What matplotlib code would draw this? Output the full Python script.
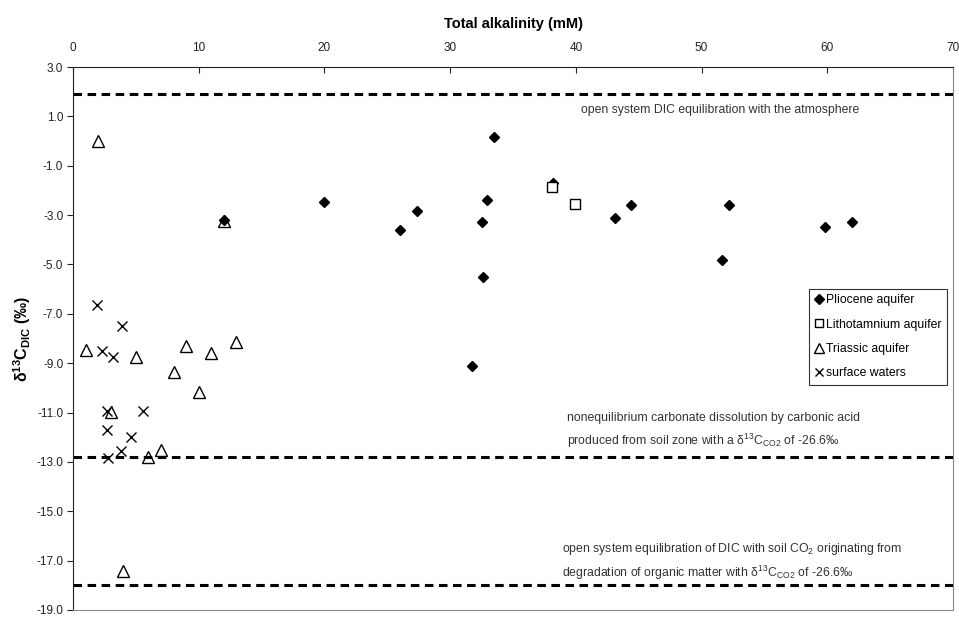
import numpy as np
import matplotlib
matplotlib.use('Agg')
import matplotlib.pyplot as plt

plt.rcParams['font.family'] = ['Liberation Sans', 'DejaVu Sans']
plt.rcParams['mathtext.fontset'] = 'custom'
plt.rcParams['mathtext.rm'] = 'Liberation Sans'
plt.rcParams['mathtext.bf'] = 'Liberation Sans:bold'
plt.rcParams['mathtext.it'] = 'Liberation Sans:italic'

# Pliocene aquifer
plio_x = [12.0, 20.0, 26.0, 27.4, 32.5, 32.6, 32.9, 33.5, 38.2, 43.1, 44.4, 51.6, 52.2, 59.8, 62.0, 31.7]
plio_y = [-3.2, -2.45, -3.6, -2.85, -3.3, -5.5, -2.4, 0.15, -1.7, -3.1, -2.6, -4.8, -2.6, -3.5, -3.3, -9.1]

# Lithotamnium aquifer
litho_x = [38.1, 39.9]
litho_y = [-1.88, -2.57]

# Triassic aquifer
tri_x = [2.0, 12.0, 1.0, 5.0, 3.05, 8.0, 9.0, 10.0, 11.0, 13.0, 6.0, 7.0, 4.0]
tri_y = [0.0, -3.25, -8.45, -8.76, -10.98, -9.34, -8.32, -10.17, -8.59, -8.14, -12.79, -12.5, -17.44]

# surface waters
surf_x = [1.9, 3.9, 2.33, 3.16, 2.68, 5.54, 2.73, 4.64, 3.79, 2.78]
surf_y = [-6.65, -7.48, -8.5, -8.73, -10.95, -10.93, -11.72, -12.0, -12.57, -12.84]

# reference lines
ref_lines = [1.9, -12.8, -18.0]

fig = plt.figure(figsize=(9.59, 6.17), dpi=100)
ax = fig.add_axes([73/959, 7/617, 880/959, 543/617])

for yv in ref_lines:
    ax.axhline(yv, color='black', lw=2.2, dashes=(2.8, 1.8), zorder=1)

ax.plot(plio_x, plio_y, 'D', color='black', ms=5.5, ls='none', label='Pliocene aquifer', zorder=3)
ax.plot(litho_x, litho_y, 's', mfc='white', mec='black', mew=1.0, ms=7.5, ls='none', label='Lithotamnium aquifer', zorder=3)
ax.plot(tri_x, tri_y, '^', mfc='none', mec='black', mew=1.0, ms=8, ls='none', label='Triassic aquifer', zorder=3)
ax.plot(surf_x, surf_y, 'x', color='black', mew=1.0, ms=7.5, ls='none', label='surface waters', zorder=3)

ax.set_xlim(0, 70)
ax.set_ylim(-19, 3)
ax.set_xticks(np.arange(0, 71, 10))
ax.set_yticks(np.arange(-19, 3.1, 2))
ax.set_yticklabels(['%.1f' % v for v in np.arange(-19, 3.1, 2)])

ax.xaxis.tick_top()
ax.xaxis.set_label_position('top')
ax.tick_params(axis='x', direction='in', length=4, pad=9.5, labelsize=8.5, colors='#222222')
ax.tick_params(axis='y', direction='out', length=4, pad=3, labelsize=8.5, colors='#222222')

ax.spines['top'].set_color('#222222')
ax.spines['left'].set_color('#222222')
ax.spines['right'].set_color('#888888')
ax.spines['bottom'].set_color('#888888')

ax.set_xlabel('Total alkalinity (mM)', fontsize=10.5, fontweight='bold', labelpad=10)
ax.set_ylabel(r'δ$^{\mathbf{13}}$C$_{\mathbf{DIC}}$ (‰)', fontsize=11.5, fontweight='bold')
ax.yaxis.set_label_coords(-0.046, 0.5)

tc = '#333333'
fs = 8.8
ax.text(51.5, 1.26, 'open system DIC equilibration with the atmosphere',
        ha='center', va='center', fontsize=fs, color=tc)
ax.text(39.3, -11.21, 'nonequilibrium carbonate dissolution by carbonic acid',
        ha='left', va='center', fontsize=fs, color=tc)
ax.text(39.3, -12.13, r'produced from soil zone with a δ$^{13}$C$_{\mathrm{CO2}}$ of -26.6‰',
        ha='left', va='center', fontsize=fs, color=tc)
ax.text(38.9, -16.53, r'open system equilibration of DIC with soil CO$_2$ originating from',
        ha='left', va='center', fontsize=fs, color=tc)
ax.text(38.9, -17.51, r'degradation of organic matter with δ$^{13}$C$_{\mathrm{CO2}}$ of -26.6‰',
        ha='left', va='center', fontsize=fs, color=tc)

leg = ax.legend(loc='upper left', bbox_to_anchor=(809/959, 1 - 289/617),
                bbox_transform=fig.transFigure, fontsize=8.8, frameon=True,
                fancybox=False, edgecolor='black', handlelength=0.7,
                handletextpad=0.2, labelspacing=1.0, borderpad=0.45,
                borderaxespad=0, markerscale=0.85)
leg.get_frame().set_linewidth(0.8)

fig.savefig('out.png', dpi=100)
